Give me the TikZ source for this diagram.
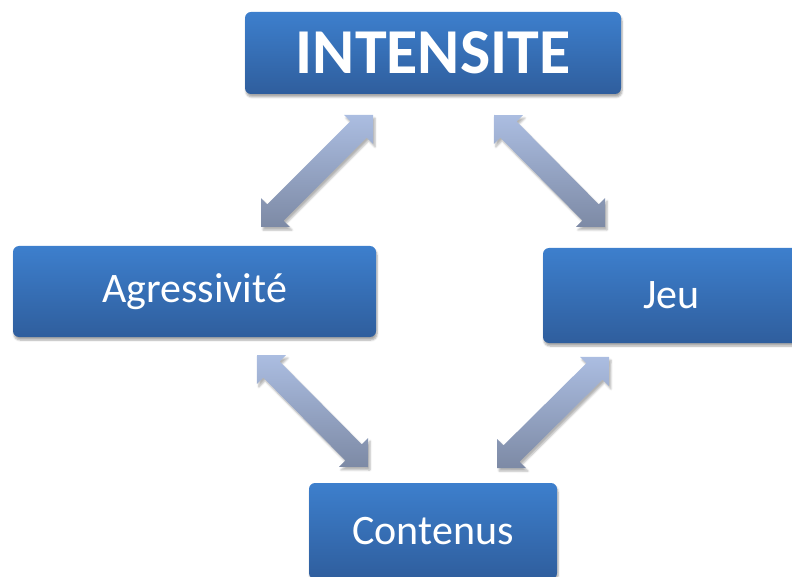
\documentclass[tikz,border=0pt]{standalone}
\usepackage{fontspec}
\setmainfont{Carlito}
\usetikzlibrary{calc,shadows.blur}
\definecolor{boxtop}{HTML}{3D7FCD}
\definecolor{boxbot}{HTML}{2F5E9D}
\definecolor{arrtop}{HTML}{ABBDE1}
\definecolor{arrbot}{HTML}{7D8AA5}
\tikzset{
  bluebox/.style={rounded corners=6pt, top color=boxtop, bottom color=boxbot,
    text=white, inner sep=0pt, font=\fontsize{42}{50}\selectfont,
    blur shadow={shadow xshift=1pt, shadow yshift=-3pt, shadow blur steps=6, shadow opacity=35}},
  grayarrow/.style={top color=arrtop, bottom color=arrbot,
    blur shadow={shadow xshift=2pt, shadow yshift=-3pt, shadow blur steps=5, shadow opacity=30}}
}
\newcommand{\dblarrow}[2]{%
  \path[grayarrow] (#1)
    -- ($(#1)!20.5pt!(#2)!20.5pt!90:(#2)$)
    -- ($(#1)!20.5pt!(#2)!11.5pt!90:(#2)$)
    -- ($(#2)!20.5pt!(#1)!11.5pt!-90:(#1)$)
    -- ($(#2)!20.5pt!(#1)!20.5pt!-90:(#1)$)
    -- (#2)
    -- ($(#2)!20.5pt!(#1)!20.5pt!90:(#1)$)
    -- ($(#2)!20.5pt!(#1)!11.5pt!90:(#1)$)
    -- ($(#1)!20.5pt!(#2)!11.5pt!-90:(#2)$)
    -- ($(#1)!20.5pt!(#2)!20.5pt!-90:(#2)$)
    -- cycle;}
\begin{document}
\begin{tikzpicture}[x=1pt, y=-1pt]
\useasboundingbox (0,0) rectangle (792,577);

\node[bluebox, minimum width=376pt, minimum height=82pt, font=\fontsize{64}{70}\selectfont\bfseries] (intensite) at (433,53) {INTENSITE};
\node[bluebox, minimum width=363pt, minimum height=91pt] (agressivite) at (194.5,291.5) {Agressivité};
\node[bluebox, minimum width=257pt, minimum height=95pt] (jeu) at (671.5,295.5) {Jeu};
\node[bluebox, minimum width=248pt, minimum height=96pt] (contenus) at (433,531) {Contenus};

\coordinate (int-agr) at (373,115);
\coordinate (agr-int) at (261,227);
\coordinate (int-jeu) at (494,115);
\coordinate (jeu-int) at (605,227);
\coordinate (agr-con) at (257,355);
\coordinate (con-agr) at (368,467);
\coordinate (jeu-con) at (609,357);
\coordinate (con-jeu) at (497,468);

\dblarrow{int-agr}{agr-int}
\dblarrow{int-jeu}{jeu-int}
\dblarrow{agr-con}{con-agr}
\dblarrow{jeu-con}{con-jeu}
\end{tikzpicture}
\end{document}
